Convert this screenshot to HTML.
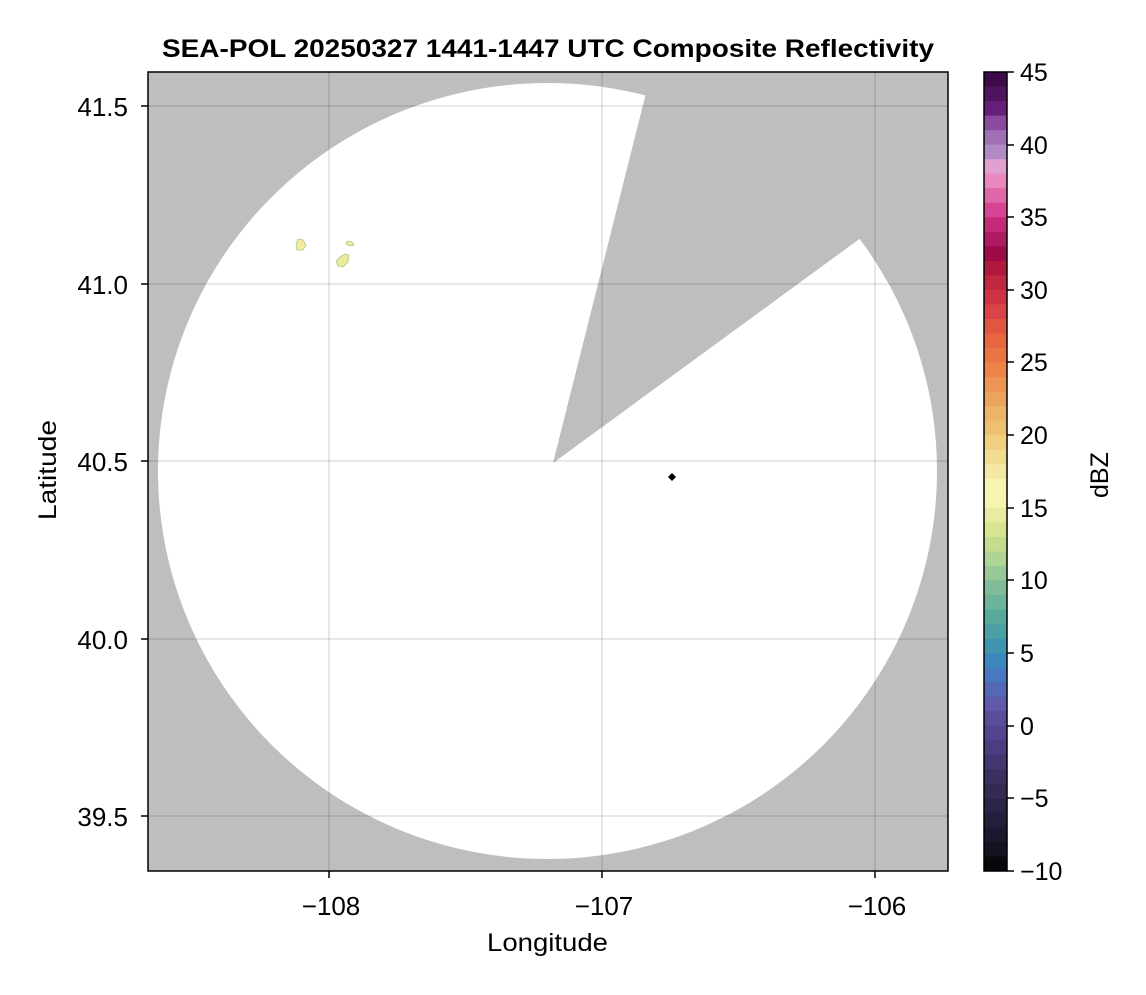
<!DOCTYPE html>
<html><head><meta charset="utf-8"><style>
html,body{margin:0;padding:0;background:#fff}
svg text{font-family:"Liberation Sans",Arial,sans-serif;fill:#000}
</style></head><body>
<svg width="1146" height="990" viewBox="0 0 1146 990" xmlns="http://www.w3.org/2000/svg">
<defs><clipPath id="pa"><rect x="148" y="72" width="800" height="799"/></clipPath></defs>
<rect x="148" y="72" width="800" height="799" fill="#bebebe"/>
<g clip-path="url(#pa)">
<ellipse cx="547.5" cy="471" rx="389.5" ry="388" fill="#fff"/>
<polygon points="553,463 645,97 700,-120 1000,0 1100,60 858,240" fill="#bebebe"/>
<g stroke="#000" stroke-opacity="0.12" stroke-width="1.5">
<line x1="329" y1="72" x2="329" y2="871"/><line x1="602" y1="72" x2="602" y2="871"/><line x1="875" y1="72" x2="875" y2="871"/>
<line x1="148" y1="106" x2="948" y2="106"/><line x1="148" y1="284" x2="948" y2="284"/><line x1="148" y1="461" x2="948" y2="461"/><line x1="148" y1="639" x2="948" y2="639"/><line x1="148" y1="816" x2="948" y2="816"/>
</g>
<path d="M298,239 L303,240 L306,245 L303,250 L297,250 L296,245 Z" fill="#f2ec9c" stroke="#a8c890" stroke-width="0.8"/>
<path d="M347,241 L352,242 L354,245 L350,246 L346,244 Z" fill="#f2ec9c" stroke="#a8c890" stroke-width="0.8"/>
<path d="M345,254 L349,255 L348,262 L343,267 L338,266 L336,261 L340,257 Z" fill="#eaeb98" stroke="#a8c890" stroke-width="0.8"/>
<polygon points="672,473 676,477 672,481 668,477" fill="#000"/>
</g>
<rect x="148" y="72" width="800" height="799" fill="none" stroke="#000" stroke-width="1.5"/>
<g stroke="#000" stroke-width="1.5">
<line x1="329" y1="871" x2="329" y2="878"/><line x1="602" y1="871" x2="602" y2="878"/><line x1="875" y1="871" x2="875" y2="878"/>
<line x1="141" y1="106" x2="148" y2="106"/><line x1="141" y1="284" x2="148" y2="284"/><line x1="141" y1="461" x2="148" y2="461"/><line x1="141" y1="639" x2="148" y2="639"/><line x1="141" y1="816" x2="148" y2="816"/>
</g>
<g font-size="26" text-anchor="middle">
<text x="331" y="915">−108</text><text x="604" y="915">−107</text><text x="877" y="915">−106</text>
</g>
<g font-size="26" text-anchor="end">
<text x="128" y="116">41.5</text><text x="128" y="294">41.0</text><text x="128" y="471">40.5</text><text x="128" y="649">40.0</text><text x="128" y="826">39.5</text>
</g>
<text x="487" y="951" font-size="25" textLength="121" lengthAdjust="spacingAndGlyphs">Longitude</text>
<text transform="translate(56,520) rotate(-90)" font-size="25" textLength="100" lengthAdjust="spacingAndGlyphs">Latitude</text>
<text x="162" y="57" font-size="25" font-weight="bold" textLength="772" lengthAdjust="spacingAndGlyphs">SEA-POL 20250327 1441-1447 UTC Composite Reflectivity</text>
<g>
<rect x="984" y="72.0" width="23" height="15.2" fill="#3d0a4a"/>
<rect x="984" y="86.5" width="23" height="15.2" fill="#4e1460"/>
<rect x="984" y="101.1" width="23" height="15.2" fill="#66207a"/>
<rect x="984" y="115.6" width="23" height="15.2" fill="#8a4a9f"/>
<rect x="984" y="130.1" width="23" height="15.2" fill="#a070b5"/>
<rect x="984" y="144.6" width="23" height="15.2" fill="#b08ac4"/>
<rect x="984" y="159.2" width="23" height="15.2" fill="#e0a0d0"/>
<rect x="984" y="173.7" width="23" height="15.2" fill="#e888bf"/>
<rect x="984" y="188.2" width="23" height="15.2" fill="#e068a8"/>
<rect x="984" y="202.7" width="23" height="15.2" fill="#d84494"/>
<rect x="984" y="217.3" width="23" height="15.2" fill="#c42a7a"/>
<rect x="984" y="231.8" width="23" height="15.2" fill="#b01a62"/>
<rect x="984" y="246.3" width="23" height="15.2" fill="#9c0a48"/>
<rect x="984" y="260.9" width="23" height="15.2" fill="#b0183e"/>
<rect x="984" y="275.4" width="23" height="15.2" fill="#c02840"/>
<rect x="984" y="289.9" width="23" height="15.2" fill="#cc3444"/>
<rect x="984" y="304.4" width="23" height="15.2" fill="#d84448"/>
<rect x="984" y="319.0" width="23" height="15.2" fill="#e0563e"/>
<rect x="984" y="333.5" width="23" height="15.2" fill="#e86640"/>
<rect x="984" y="348.0" width="23" height="15.2" fill="#ec7444"/>
<rect x="984" y="362.5" width="23" height="15.2" fill="#ee8448"/>
<rect x="984" y="377.1" width="23" height="15.2" fill="#ec9454"/>
<rect x="984" y="391.6" width="23" height="15.2" fill="#eca45c"/>
<rect x="984" y="406.1" width="23" height="15.2" fill="#ecb466"/>
<rect x="984" y="420.6" width="23" height="15.2" fill="#eec070"/>
<rect x="984" y="435.2" width="23" height="15.2" fill="#f0d080"/>
<rect x="984" y="449.7" width="23" height="15.2" fill="#f2dc92"/>
<rect x="984" y="464.2" width="23" height="15.2" fill="#f4e8a4"/>
<rect x="984" y="478.8" width="23" height="15.2" fill="#f8f4b4"/>
<rect x="984" y="493.3" width="23" height="15.2" fill="#f6f4b0"/>
<rect x="984" y="507.8" width="23" height="15.2" fill="#e8eca0"/>
<rect x="984" y="522.3" width="23" height="15.2" fill="#d8e490"/>
<rect x="984" y="536.9" width="23" height="15.2" fill="#c4dc8c"/>
<rect x="984" y="551.4" width="23" height="15.2" fill="#b0d494"/>
<rect x="984" y="565.9" width="23" height="15.2" fill="#98c898"/>
<rect x="984" y="580.4" width="23" height="15.2" fill="#80bc98"/>
<rect x="984" y="595.0" width="23" height="15.2" fill="#6cb49c"/>
<rect x="984" y="609.5" width="23" height="15.2" fill="#58a89c"/>
<rect x="984" y="624.0" width="23" height="15.2" fill="#4aa0a4"/>
<rect x="984" y="638.5" width="23" height="15.2" fill="#4094b0"/>
<rect x="984" y="653.1" width="23" height="15.2" fill="#3c88bc"/>
<rect x="984" y="667.6" width="23" height="15.2" fill="#4878c0"/>
<rect x="984" y="682.1" width="23" height="15.2" fill="#5468b4"/>
<rect x="984" y="696.7" width="23" height="15.2" fill="#6058a8"/>
<rect x="984" y="711.2" width="23" height="15.2" fill="#5c4c9c"/>
<rect x="984" y="725.7" width="23" height="15.2" fill="#544490"/>
<rect x="984" y="740.2" width="23" height="15.2" fill="#4c3c80"/>
<rect x="984" y="754.8" width="23" height="15.2" fill="#443670"/>
<rect x="984" y="769.3" width="23" height="15.2" fill="#3c3060"/>
<rect x="984" y="783.8" width="23" height="15.2" fill="#342a54"/>
<rect x="984" y="798.3" width="23" height="15.2" fill="#2c2448"/>
<rect x="984" y="812.9" width="23" height="15.2" fill="#241e3c"/>
<rect x="984" y="827.4" width="23" height="15.2" fill="#1c1830"/>
<rect x="984" y="841.9" width="23" height="15.2" fill="#141222"/>
<rect x="984" y="856.5" width="23" height="14.5" fill="#08080c"/>
</g>
<rect x="984" y="72" width="23" height="799" fill="none" stroke="#000" stroke-width="1.5"/>
<g stroke="#000" stroke-width="1.5">
<line x1="1007" y1="72" x2="1014" y2="72"/><line x1="1007" y1="145" x2="1014" y2="145"/><line x1="1007" y1="217" x2="1014" y2="217"/><line x1="1007" y1="290" x2="1014" y2="290"/><line x1="1007" y1="362" x2="1014" y2="362"/><line x1="1007" y1="435" x2="1014" y2="435"/><line x1="1007" y1="508" x2="1014" y2="508"/><line x1="1007" y1="580" x2="1014" y2="580"/><line x1="1007" y1="653" x2="1014" y2="653"/><line x1="1007" y1="726" x2="1014" y2="726"/><line x1="1007" y1="798" x2="1014" y2="798"/><line x1="1007" y1="871" x2="1014" y2="871"/>
</g>
<g font-size="25">
<text x="1020" y="81">45</text><text x="1020" y="154">40</text><text x="1020" y="226">35</text><text x="1020" y="299">30</text><text x="1020" y="371">25</text><text x="1020" y="444">20</text><text x="1020" y="517">15</text><text x="1020" y="589">10</text><text x="1020" y="662">5</text><text x="1020" y="735">0</text><text x="1020" y="807">−5</text><text x="1020" y="880">−10</text>
</g>
<text transform="translate(1108,498) rotate(-90)" font-size="25">dBZ</text>
</svg>
</body></html>
